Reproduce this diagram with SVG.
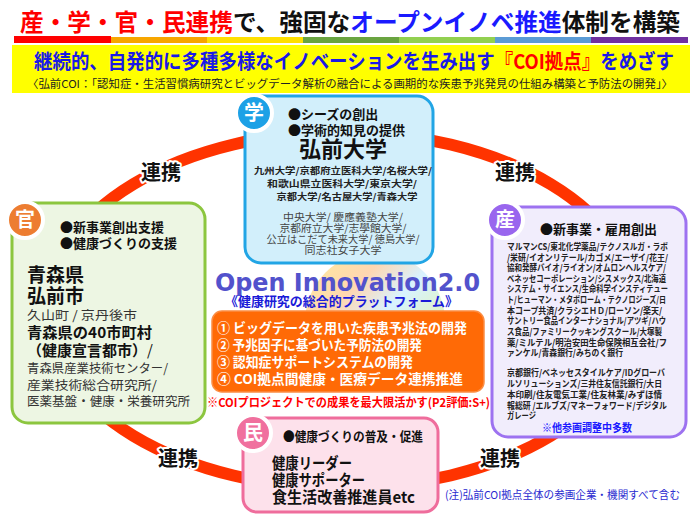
<svg xmlns="http://www.w3.org/2000/svg" width="700" height="518" viewBox="0 0 700 518">
<defs>
<style>
.jp{font-family:"Noto Sans CJK JP","Noto Sans",sans-serif}
.b{font-weight:bold}
.badge{font-family:"Noto Sans CJK JP",sans-serif;font-weight:bold;font-size:20px;fill:#fff;text-anchor:middle}
.renkei{font-family:"Noto Sans CJK JP",sans-serif;font-weight:bold;font-size:20px;fill:#111;stroke:#fff;stroke-width:4;stroke-linejoin:round;paint-order:stroke;text-anchor:middle}
.bul{font-size:13px;font-weight:bold;fill:#111}
.sm{font-size:9px;font-weight:bold;fill:#222}
.gr{font-size:10.5px;fill:#444}
.ow{font-size:13.5px;font-weight:bold;fill:#fff}
</style>
<linearGradient id="swirl" x1="0" y1="0" x2="1" y2="1">
<stop offset="0" stop-color="#ffd200"/>
<stop offset="0.3" stop-color="#ff9a3c"/>
<stop offset="0.5" stop-color="#9fe0ff"/>
<stop offset="0.7" stop-color="#b0e27a"/>
<stop offset="1" stop-color="#f7a8d0"/>
</linearGradient>
</defs>
<rect width="700" height="518" fill="#fff"/>

<g id="header">
<text class="jp b" x="20" y="31" font-size="24" textLength="660" lengthAdjust="spacingAndGlyphs"><tspan fill="#ff0000">産・学・官・民連携</tspan><tspan fill="#111">で、強固な</tspan><tspan fill="#1a1aff">オープンイノベ推進</tspan><tspan fill="#111">体制を構築</tspan></text>
<rect x="14" y="36" width="97" height="7" fill="#ff0000"/>
<rect x="111" y="37" width="96" height="6" fill="#f7a600"/>
<rect x="207" y="37" width="96" height="6" fill="#ffe000"/>
<rect x="303" y="37" width="96" height="6" fill="#6aa440"/>
<rect x="399" y="37" width="96" height="6" fill="#92d050"/>
<rect x="495" y="37" width="96" height="6" fill="#5b9bd5"/>
<rect x="591" y="37" width="97" height="6" fill="#7030a0"/>
<rect x="12" y="45" width="678" height="48" fill="#ffff00"/>
<text class="jp b" x="34" y="69" font-size="20.5" fill="#1a1ae6" textLength="640" lengthAdjust="spacingAndGlyphs">継続的、自発的に多種多様なイノベーションを生み出す<tspan fill="#ff0000">『COI拠点』</tspan>をめざす</text>
<text class="jp" x="27" y="88" font-size="11" fill="#222" textLength="646" lengthAdjust="spacingAndGlyphs">〈弘前COI：「認知症・生活習慣病研究とビッグデータ解析の融合による画期的な疾患予兆発見の仕組み構築と予防法の開発」〉</text>
</g>

<g id="connectors">
<ellipse cx="342" cy="310" rx="295" ry="178" fill="none" stroke="#ff3300" stroke-width="12"/>
<circle cx="375" cy="322" r="70" fill="url(#swirl)" opacity="0.4"/>
</g>

<g id="gaku">
<rect x="245" y="96" width="188" height="167" rx="16" fill="#d2effb" stroke="#22a5e5" stroke-width="3"/>
<circle cx="254" cy="113" r="18" fill="#1da1e6" stroke="#fff" stroke-width="4"/>
<text class="badge" x="254" y="120">学</text>
<text class="jp bul" x="288" y="119">●シーズの創出</text>
<text class="jp bul" x="288" y="135">●学術的知見の提供</text>
<text class="jp b" x="343" y="157" font-size="22" fill="#111" text-anchor="middle">弘前大学</text>
<g class="jp" text-anchor="middle">
<text class="sm" x="343" y="174" font-size="10.5" textLength="178" lengthAdjust="spacingAndGlyphs">九州大学/京都府立医科大学/名桜大学/</text>
<text class="sm" x="342" y="187" font-size="10.5" textLength="150" lengthAdjust="spacingAndGlyphs">和歌山県立医科大学/東京大学/</text>
<text class="sm" x="347" y="200" font-size="10.5" textLength="141" lengthAdjust="spacingAndGlyphs">京都大学/名古屋大学/青森大学</text>
<text class="gr" x="343" y="221" textLength="120" lengthAdjust="spacingAndGlyphs">中央大学/ 慶應義塾大学/</text>
<text class="gr" x="343" y="232" textLength="127" lengthAdjust="spacingAndGlyphs">京都府立大学/志學館大学/</text>
<text class="gr" x="343" y="243" textLength="153" lengthAdjust="spacingAndGlyphs">公立はこだて未来大学/ 徳島大学/</text>
<text class="gr" x="343" y="254" textLength="77" lengthAdjust="spacingAndGlyphs">同志社女子大学</text>
</g>
</g>

<g id="kan">
<rect x="12" y="203" width="193" height="220" rx="16" fill="#edf6e3" stroke="#8cc63f" stroke-width="3"/>
<circle cx="25" cy="220" r="18" fill="#ed7d31" stroke="#fff" stroke-width="4"/>
<text class="badge" x="25" y="227">官</text>
<text class="jp bul" x="60" y="232">●新事業創出支援</text>
<text class="jp bul" x="60" y="248">●健康づくりの支援</text>
<text class="jp b" x="27" y="282" font-size="19" fill="#111">青森県</text>
<text class="jp b" x="27" y="303" font-size="19" fill="#111">弘前市</text>
<text class="jp" x="27" y="320" font-size="12.5" fill="#333" textLength="110" lengthAdjust="spacingAndGlyphs">久山町 / 京丹後市</text>
<text class="jp b" x="27" y="338" font-size="15" fill="#111" textLength="125" lengthAdjust="spacingAndGlyphs">青森県の40市町村</text>
<text class="jp b" x="27" y="356" font-size="15" fill="#111" textLength="126" lengthAdjust="spacingAndGlyphs">（健康宣言都市）<tspan font-weight="normal">/</tspan></text>
<text class="jp" x="27" y="373" font-size="12.5" fill="#333" textLength="141" lengthAdjust="spacingAndGlyphs">青森県産業技術センター/</text>
<text class="jp" x="27" y="390" font-size="12.5" fill="#333" textLength="130" lengthAdjust="spacingAndGlyphs">産業技術総合研究所/</text>
<text class="jp" x="27" y="406" font-size="12.5" fill="#333" textLength="163" lengthAdjust="spacingAndGlyphs">医薬基盤・健康・栄養研究所</text>
</g>

<g id="san">
<rect x="492" y="207" width="194" height="230" rx="16" fill="#f1edfc" stroke="#9d72f0" stroke-width="3"/>
<circle cx="505" cy="220" r="18" fill="#9966ee" stroke="#fff" stroke-width="4"/>
<text class="badge" x="505" y="227">産</text>
<text class="jp bul" x="540" y="234">●新事業・雇用創出</text>
<g class="jp sm">
<text x="507" y="250" textLength="161" lengthAdjust="spacingAndGlyphs">マルマンCS/東北化学薬品/テクノスルガ・ラボ</text>
<text x="507" y="261" textLength="161" lengthAdjust="spacingAndGlyphs">/栄研/イオンリテール/カゴメ/エーザイ/花王/</text>
<text x="507" y="271" textLength="159" lengthAdjust="spacingAndGlyphs">協和発酵バイオ/ライオン/オムロンヘルスケア/</text>
<text x="507" y="282" textLength="159" lengthAdjust="spacingAndGlyphs">ベネッセコーポレーション/シスメックス/北海道</text>
<text x="507" y="292" textLength="161" lengthAdjust="spacingAndGlyphs">システム・サイエンス/生命科学インスティテュー</text>
<text x="507" y="303" textLength="159" lengthAdjust="spacingAndGlyphs">ト/ヒューマン・メタボローム・テクノロジーズ/日</text>
<text x="507" y="314" textLength="155" lengthAdjust="spacingAndGlyphs">本コープ共済/クラシエＨＤ/ローソン/楽天/</text>
<text x="507" y="324" textLength="159" lengthAdjust="spacingAndGlyphs">サントリー食品インターナショナル/アツギ/ハウ</text>
<text x="507" y="335" textLength="155" lengthAdjust="spacingAndGlyphs">ス食品/ファミリークッキングスクール/大塚製</text>
<text x="507" y="346" textLength="160" lengthAdjust="spacingAndGlyphs">薬/ミルテル/明治安田生命保険相互会社/フ</text>
<text x="507" y="356" textLength="116" lengthAdjust="spacingAndGlyphs">ァンケル/青森銀行/みちのく銀行</text>
<text x="507" y="376" textLength="158" lengthAdjust="spacingAndGlyphs">京都銀行/ベネッセスタイルケア/IDグローバ</text>
<text x="507" y="387" textLength="155" lengthAdjust="spacingAndGlyphs">ルソリューションズ/三井住友信託銀行/大日</text>
<text x="507" y="398" textLength="155" lengthAdjust="spacingAndGlyphs">本印刷/住友電気工業/住友林業/みずほ情</text>
<text x="507" y="409" textLength="160" lengthAdjust="spacingAndGlyphs">報総研 /エルブズ/マネーフォワード/デジタル</text>
<text x="507" y="419" textLength="29" lengthAdjust="spacingAndGlyphs">ガレージ</text>
</g>
<text class="jp b" x="542" y="432" font-size="11" fill="#1a1aff" textLength="90" lengthAdjust="spacingAndGlyphs">※他参画調整中多数</text>
</g>

<g id="center">
<text x="215" y="291" font-family="DejaVu Sans, sans-serif" font-weight="bold" font-size="24" fill="#5252cc" textLength="265" lengthAdjust="spacingAndGlyphs">Open Innovation2.0</text>
<text class="jp b" x="225" y="306" font-size="13" fill="#1a1ad8" textLength="233" lengthAdjust="spacingAndGlyphs">《健康研究の総合的プラットフォーム》</text>
<rect x="212" y="311" width="272" height="81" rx="10" fill="#ff6a06" stroke="#fb8d44" stroke-width="1.5"/>
<text class="jp ow" x="217" y="333" textLength="250" lengthAdjust="spacingAndGlyphs">① ビッグデータを用いた疾患予兆法の開発</text>
<text class="jp ow" x="217" y="350" textLength="205" lengthAdjust="spacingAndGlyphs">② 予兆因子に基づいた予防法の開発</text>
<text class="jp ow" x="217" y="367" textLength="196" lengthAdjust="spacingAndGlyphs">③ 認知症サポートシステムの開発</text>
<text class="jp ow" x="217" y="384" textLength="246" lengthAdjust="spacingAndGlyphs">④ COI拠点間健康・医療データ連携推進</text>
<text class="jp b" x="207" y="407" font-size="12" fill="#ff0000" textLength="283" lengthAdjust="spacingAndGlyphs">※COIプロジェクトでの成果を最大限活かす(P2評価:S+)</text>
</g>

<g id="min">
<rect x="243" y="418" width="195" height="94" rx="14" fill="#fde1eb" stroke="#ef6d9c" stroke-width="3"/>
<circle cx="253" cy="433" r="18" fill="#f0709e" stroke="#fff" stroke-width="4"/>
<text class="badge" x="253" y="440">民</text>
<text class="jp bul" x="283" y="441" font-size="12" textLength="140" lengthAdjust="spacingAndGlyphs">●健康づくりの普及・促進</text>
<text class="jp b" x="272" y="469" font-size="15.5" fill="#111" textLength="80" lengthAdjust="spacingAndGlyphs">健康リーダー</text>
<text class="jp b" x="272" y="486" font-size="15.5" fill="#111" textLength="93" lengthAdjust="spacingAndGlyphs">健康サポーター</text>
<text class="jp b" x="272" y="503" font-size="15.5" fill="#111" textLength="143" lengthAdjust="spacingAndGlyphs">食生活改善推進員etc</text>
</g>

<g id="labels">
<text class="renkei" x="161" y="180">連携</text>
<text class="renkei" x="515" y="180">連携</text>
<text class="renkei" x="178" y="466">連携</text>
<text class="renkei" x="500" y="466">連携</text>
<text class="jp" x="445" y="499" font-size="11" fill="#2a2ad0" textLength="235" lengthAdjust="spacingAndGlyphs">(注)弘前COI拠点全体の参画企業・機関すべて含む</text>
</g>
</svg>
